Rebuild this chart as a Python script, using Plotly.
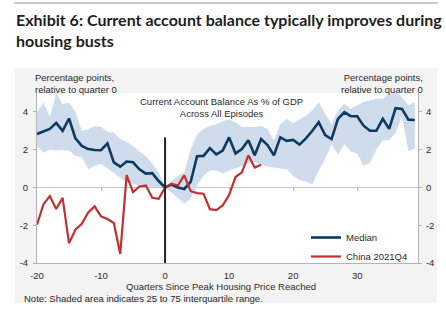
import plotly.graph_objects as go

# ---------------- data ----------------
quarters = list(range(-20, 40))
median = [2.83, 2.95, 3.10, 3.42, 3.00, 3.65, 2.60, 2.20, 2.03, 1.98,
          1.97, 2.33, 1.33, 1.10, 1.37, 1.33, 0.96, 0.73, 0.76, 0.34,
          0.00, 0.15, 0.00, -0.08, 0.30, 1.65, 1.67, 2.08, 1.75, 1.95,
          2.65, 1.80, 2.03, 2.50, 1.70, 2.56, 2.24, 1.70, 2.65, 2.47,
          2.52, 2.27, 2.60, 3.00, 3.45, 2.77, 2.56, 3.63, 3.98, 3.77,
          3.77, 3.27, 3.00, 3.00, 3.63, 3.10, 4.20, 4.16, 3.59, 3.57]
upper_q75 = [4.0, 4.5, 3.7, 5.0, 4.4, 4.5, 4.0, 3.0, 3.1, 3.25,
             3.2, 2.95, 2.9, 2.55, 2.4, 2.2, 1.9, 1.67, 1.25, 0.8,
             0.0, 0.35, 0.6, 0.8, 2.0, 2.8, 3.1, 3.25, 3.35, 3.5,
             3.6, 3.45, 3.2, 3.2, 3.2, 3.25, 3.1, 2.47, 3.36, 3.63,
             3.4, 3.6, 3.8, 4.07, 4.52, 3.9, 3.36, 4.07, 4.43, 4.16,
             4.34, 4.52, 4.6, 4.7, 4.7, 4.96, 5.05, 4.78, 4.34, 4.52]
lower_q25 = [2.2, 1.85, 2.0, 1.95, 2.0, 1.95, 1.67, 1.6, 0.96, 1.15,
             1.25, 1.0, 0.75, 0.5, 0.28, 0.2, 0.07, 0.05, 0.05, 0.03,
             0.0, -0.3, -0.6, -0.85, -0.6, 0.1, 0.6, 0.9, 0.9, 0.75,
             0.9, 1.0, 1.13, 1.3, 1.35, 1.2, 1.1, 1.05, 1.0, 0.96,
             0.6, 0.4, 0.3, 0.15, 0.9, 1.5, 2.3, 1.75, 2.3, 1.9,
             1.8, 1.15, 1.3, 2.0, 2.5, 2.5, 2.9, 3.72, 1.94, 2.05]
china_quarters = list(range(-20, 16))
china_2021q4 = [-1.97, -0.9, -0.46, -1.14, -0.55, -2.95, -2.24, -1.92, -1.32, -1.0,
                -1.53, -1.67, -1.88, -3.52, 0.65, -0.25, 0.05, 0.1, -0.55, -0.6,
                0.0, 0.2, 0.1, 0.64, -0.2, -0.3, -0.33, -1.15, -1.2, -0.95,
                -0.4, 0.55, 0.8, 1.7, 1.05, 1.2]
x_ticks = [-20, -10, 0, 10, 20, 30]
x_tick_labels = ["-20", "-10", "0", "10", "20", "30"]
y_ticks = [-4, -2, 0, 2, 4]
y_tick_labels = ["-4", "-2", "0", "2", "4"]
peak_marker_top = 2.65

# ---------------- styling ----------------
NAVY = "#0c3a60"
RED = "#c4302e"
BAND = "#cfdcec"
AXIS = "#b4b4b4"
TXT = "#2a2a2a"
FONT = "Liberation Sans, Arial, sans-serif"
W, H = 446, 321
L, R, T, B = 37, 28, 93, 58
pw, ph = W - L - R, H - T - B


def px_x(p):
    return (p - L) / pw


def px_y(p):
    return (H - B - p) / ph


fig = go.Figure()
fig.add_trace(go.Scatter(x=quarters, y=upper_q75, mode="lines", line=dict(width=0),
                         showlegend=False, hoverinfo="skip"))
fig.add_trace(go.Scatter(x=quarters, y=lower_q25, mode="lines", line=dict(width=0),
                         fill="tonexty", fillcolor=BAND, showlegend=False, hoverinfo="skip"))
fig.add_trace(go.Scatter(x=quarters, y=median, mode="lines", name="Median",
                         line=dict(color=NAVY, width=2.6)))
fig.add_trace(go.Scatter(x=china_quarters, y=china_2021q4, mode="lines", name="China 2021Q4",
                         line=dict(color=RED, width=2.2)))
# helper traces for tick axes on zero line and right side
fig.add_trace(go.Scatter(x=[quarters[0]], y=[0], xaxis="x2", yaxis="y", mode="markers",
                         marker=dict(opacity=0), showlegend=False, hoverinfo="skip"))
fig.add_trace(go.Scatter(x=[quarters[0]], y=[0], xaxis="x", yaxis="y2", mode="markers",
                         marker=dict(opacity=0), showlegend=False, hoverinfo="skip"))

xr = [-20, 39.5]
yr = [-4, 5]

fig.update_layout(
    width=W, height=H,
    margin=dict(l=L, r=R, t=T, b=B),
    paper_bgcolor="white", plot_bgcolor="white",
    font=dict(family=FONT, size=9, color=TXT),
    xaxis=dict(range=xr, tickvals=x_ticks, ticktext=x_tick_labels, showline=True,
               linecolor=AXIS, linewidth=1, ticks="", showgrid=False, zeroline=False,
               tickfont=dict(size=9.5), ticklabelstandoff=4),
    xaxis2=dict(range=xr, overlaying="x", anchor="free", position=(0 - yr[0]) / (yr[1] - yr[0]),
                tickvals=[-10, 10, 20, 30], ticks="outside", ticklen=3, tickcolor=AXIS,
                showticklabels=False, showline=False, showgrid=False, zeroline=False),
    yaxis=dict(range=yr, tickvals=y_ticks, ticktext=y_tick_labels, showline=True,
               linecolor=AXIS, linewidth=1, ticks="outside", ticklen=3, tickcolor=AXIS,
               showgrid=False, zeroline=True, zerolinecolor="#c6c6c6", zerolinewidth=1,
               tickfont=dict(size=9.5), ticklabelstandoff=3),
    yaxis2=dict(range=yr, tickvals=y_ticks, ticktext=y_tick_labels, overlaying="y",
                side="right", showline=True, linecolor=AXIS, linewidth=1, ticks="outside",
                ticklen=3, tickcolor=AXIS, showgrid=False, zeroline=False,
                tickfont=dict(size=9.5), ticklabelstandoff=2),
    legend=dict(x=px_x(306), y=px_y(223), xanchor="left", yanchor="top",
                bgcolor="rgba(0,0,0,0)", font=dict(size=9.5), tracegroupgap=0,
                traceorder="normal"),
    showlegend=True,
)

shapes = [
    dict(type="rect", xref="paper", yref="paper", x0=px_x(15), x1=px_x(437),
         y0=px_y(303), y1=px_y(68), fillcolor="#f3f3f3", line=dict(width=0), layer="below"),
    dict(type="rect", xref="paper", yref="paper", x0=0, x1=1, y0=0, y1=1,
         fillcolor="white", line=dict(width=0), layer="below"),
    dict(type="line", xref="paper", yref="paper", x0=px_x(14), x1=px_x(438),
         y0=px_y(3), y1=px_y(3), line=dict(color="#b8b8b8", width=1.5)),
    dict(type="line", xref="x", yref="y", x0=0, x1=0, y0=yr[0], y1=peak_marker_top,
         line=dict(color="#222222", width=2), layer="above"),
]
fig.update_layout(shapes=shapes)

ann = [
    dict(text="<b>Exhibit 6: Current account balance typically improves during<br>housing busts</b>",
         x=px_x(14), y=px_y(8), xanchor="left", yanchor="top", align="left",
         font=dict(family="Lato, sans-serif", size=16, color="#1e1e1e")),
    dict(text="Percentage points,<br>relative to quarter 0", x=px_x(33), y=px_y(70),
         xanchor="left", yanchor="top", align="left", font=dict(size=9.5)),
    dict(text="Percentage points,<br>relative to quarter 0", x=px_x(425), y=px_y(70),
         xanchor="right", yanchor="top", align="right", font=dict(size=9.5)),
    dict(text="Current Account Balance As % of GDP<br>Across All Episodes", x=px_x(221), y=px_y(94),
         xanchor="center", yanchor="top", align="center", font=dict(size=9.5)),
    dict(text="Quarters Since Peak Housing Price Reached", x=px_x(221), y=px_y(286),
         xanchor="center", yanchor="middle", font=dict(size=9.5)),
    dict(text="Note: Shaded area indicates 25 to 75 interquartile range.", x=px_x(22), y=px_y(298),
         xanchor="left", yanchor="middle", font=dict(size=9.5)),
]
for a in ann:
    a.update(xref="paper", yref="paper", showarrow=False)
fig.update_layout(annotations=ann)

fig.write_html("out.html")
